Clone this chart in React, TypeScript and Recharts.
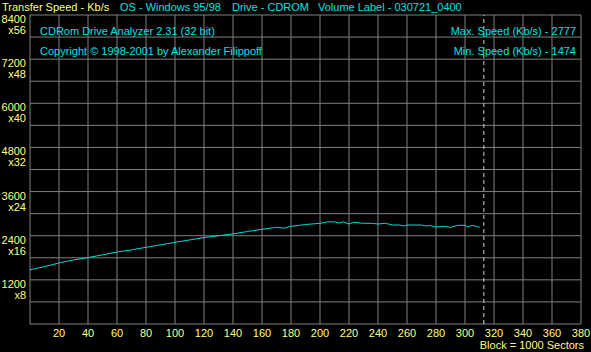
import React from 'react';
import { LineChart, Line, XAxis, YAxis, CartesianGrid, ReferenceLine } from 'recharts';

const blocks = [0, 10, 20, 30, 40, 50, 60, 70, 80, 90, 100, 110, 120, 130, 140, 150, 160, 170, 175, 180, 190, 200, 205, 210, 213, 216, 220, 223, 230, 236, 240, 245, 250, 255, 258, 260, 270, 273, 276, 280, 286, 290, 295, 300, 302, 305, 308, 310];
const speeds = [1474, 1560, 1660, 1740, 1805, 1880, 1955, 2015, 2085, 2150, 2220, 2285, 2350, 2400, 2450, 2514, 2574, 2628, 2605, 2655, 2704, 2737, 2777, 2777, 2745, 2777, 2718, 2764, 2737, 2737, 2718, 2737, 2691, 2691, 2664, 2691, 2691, 2664, 2677, 2637, 2655, 2628, 2682, 2682, 2637, 2682, 2655, 2628];

const xTicks = [0, 20, 40, 60, 80, 100, 120, 140, 160, 180, 200, 220, 240, 260, 280, 300, 320, 340, 360, 380];
const yTicks = [0, 600, 1200, 1800, 2400, 3000, 3600, 4200, 4800, 5400, 6000, 6600, 7200, 7800, 8400];
const endBlock = 313;

const headerItems = [
  { text: 'Transfer Speed - Kb/s', left: 2, color: '#ffff80' },
  { text: 'OS - Windows 95/98', left: 120, color: '#00e0e0' },
  { text: 'Drive - CDROM', left: 232, color: '#00e0e0' },
  { text: 'Volume Label - 030721_0400', left: 318, color: '#00e0e0' },
];

const data = blocks.map((b, i) => ({ block: b, speed: speeds[i] }));

const YELLOW = '#ffff80';
const CYAN = '#00e0e0';
const FONT = '"Liberation Sans", Arial, sans-serif';

const YTick = (props: any) => {
  const { y, payload } = props;
  const v = payload.value;
  if (v === 0 || v % 1200 !== 0) return null;
  return (
    <g>
      <text x={26} y={y + 8} textAnchor="end" fill={YELLOW} fontSize={11} fontFamily={FONT}>{v}</text>
      <text x={26} y={y + 19} textAnchor="end" fill={YELLOW} fontSize={11} fontFamily={FONT}>{'x' + v / 150}</text>
    </g>
  );
};

const XTick = (props: any) => {
  const { x, payload } = props;
  if (payload.value === 0) return null;
  return (
    <text x={x} y={337} textAnchor="middle" fill={YELLOW} fontSize={11} fontFamily={FONT}>{payload.value}</text>
  );
};

const txt: React.CSSProperties = { position: 'absolute', fontFamily: FONT, fontSize: 11, whiteSpace: 'nowrap', lineHeight: '14px' };

export default function App() {
  return (
    <div style={{ position: 'absolute', left: 0, top: 0, width: 591, height: 352, background: '#000', overflow: 'hidden' }}>
      <LineChart width={591} height={352} data={data} margin={{ top: 15, right: 10, left: 0, bottom: 0 }}>
        <CartesianGrid stroke="#808080" strokeWidth={1} />
        <XAxis dataKey="block" type="number" domain={[0, 380]} ticks={xTicks} height={28} axisLine={false} tickLine={false} tickSize={0} tick={<XTick />} interval={0} />
        <YAxis type="number" domain={[0, 8400]} ticks={yTicks} width={30} axisLine={false} tickLine={false} tick={<YTick />} interval={0} />
        <ReferenceLine x={endBlock} stroke="#d0d0d0" strokeDasharray="4 3" />
        <Line type="linear" dataKey="speed" stroke="#00d8d8" strokeWidth={1} dot={false} isAnimationActive={false} />
      </LineChart>
      {headerItems.map((h) => (
        <div key={h.text} style={{ ...txt, left: h.left, top: 0, color: h.color }}>{h.text}</div>
      ))}
      <div style={{ ...txt, left: 40, top: 24, color: CYAN }}>CDRom Drive Analyzer 2.31 (32 bit)</div>
      <div style={{ ...txt, left: 40, top: 44, color: CYAN }}>Copyright © 1998-2001 by Alexander Filippoff</div>
      <div style={{ ...txt, right: 15, top: 24, color: CYAN }}>Max. Speed (Kb/s) - 2777</div>
      <div style={{ ...txt, right: 15, top: 44, color: CYAN }}>Min. Speed (Kb/s) - 1474</div>
      <div style={{ ...txt, right: 7, top: 338, color: YELLOW }}>Block = 1000 Sectors</div>
    </div>
  );
}
